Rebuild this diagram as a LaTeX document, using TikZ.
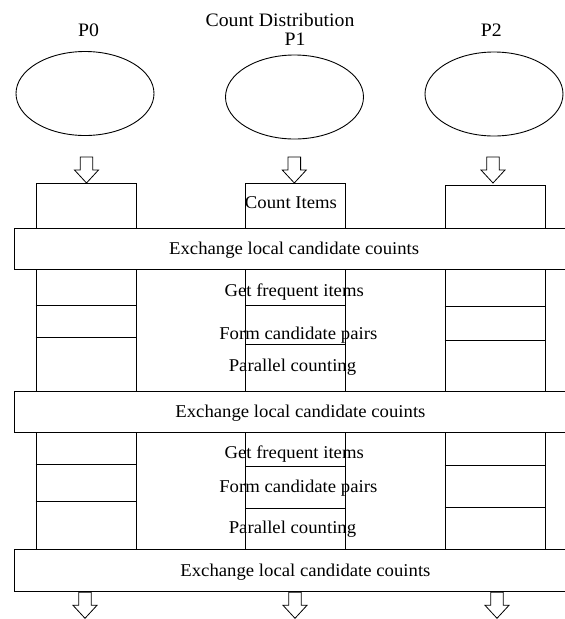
\documentclass[tikz,border=0pt]{standalone}
\usepackage{fontspec}
\setmainfont[FakeStretch=1.04]{Liberation Serif}
\usetikzlibrary{shapes.geometric}
\begin{document}
\begin{tikzpicture}[x=1pt,y=-1pt,line width=0.9pt,
  proc/.style={draw,ellipse,minimum width=138pt,minimum height=84pt,inner sep=0pt},
  lbl/.style={font=\fontsize{19}{21}\selectfont,anchor=base,inner sep=0pt},
  txt/.style={font=\fontsize{18}{20}\selectfont,anchor=base,inner sep=0pt},
  bar/.style={draw,fill=white,rectangle,anchor=west,minimum height=41.5pt,inner sep=0pt,
    text height=12pt,text depth=0pt,font=\fontsize{18}{20}\selectfont},
  column/.style={draw,rectangle,anchor=north west,minimum width=100pt,inner sep=0pt},
  blockdown/.pic={\draw[fill=white,line width=0.8pt] (-6.3,0) -- (6.3,0) -- (6.3,13) -- (12,13) -- (0,26) -- (-12,13) -- (-6.3,13) -- cycle;}]
\useasboundingbox (0,0) rectangle (565,619);
% titles
\node[lbl] (title) at (280,26.7) {Count Distribution};
\node[lbl] (l0) at (88.5,36.7) {P0};
\node[lbl] (l1) at (295,45.7) {P1};
\node[lbl] (l2) at (491.3,36) {P2};
% processors
\node[proc] (p0) at (85,93.5) {};
\node[proc] (p1) at (294.5,97) {};
\node[proc] (p2) at (494,94) {};
% columns
\node[column,minimum height=366pt] (c0) at (35.7,183.3) {};
\node[column,minimum height=366pt] (c1) at (245,183.3) {};
\node[column,minimum height=364.3pt,minimum width=100.5pt] (c2) at (444.5,185) {};
% dividing lines
\foreach \c/\ya/\yb/\yc/\yd in {c0/305/337.7/464.3/501.3, c1/305/344.3/466/508, c2/306/340.7/465.7/507.7}{
  \draw (\c.west |- 0,\ya) -- (\c.east |- 0,\ya);
  \draw (\c.west |- 0,\yb) -- (\c.east |- 0,\yb);
  \draw (\c.west |- 0,\yc) -- (\c.east |- 0,\yc);
  \draw (\c.west |- 0,\yd) -- (\c.east |- 0,\yd);
}
% exchange bars
\node[bar,minimum width=558.8pt] (x1) at (14.3,248.8) {Exchange local candidate couints};
\node[bar,minimum width=571.4pt] (x2) at (14.3,411.9) {Exchange local candidate couints};
\node[bar,minimum width=581.4pt] (x3) at (14.3,570.2) {Exchange local candidate couints};
% step texts
\node[txt] (t0) at (291,208.5) {Count Items};
\node[txt] (g1) at (294.2,296.7) {Get frequent items};
\node[txt] (f1) at (298.3,339.3) {Form candidate pairs};
\node[txt] (q1) at (292.5,371) {Parallel counting};
\node[txt] (g2) at (294.2,458.7) {Get frequent items};
\node[txt] (f2) at (298.3,492.7) {Form candidate pairs};
\node[txt] (q2) at (292.5,533.3) {Parallel counting};
% block arrows
\pic at (86.5,157) {blockdown};
\pic at (294.3,157) {blockdown};
\pic at (493,157) {blockdown};
\pic at (85,592.3) {blockdown};
\pic at (295,592.3) {blockdown};
\pic at (497,592.3) {blockdown};
\end{tikzpicture}
\end{document}
